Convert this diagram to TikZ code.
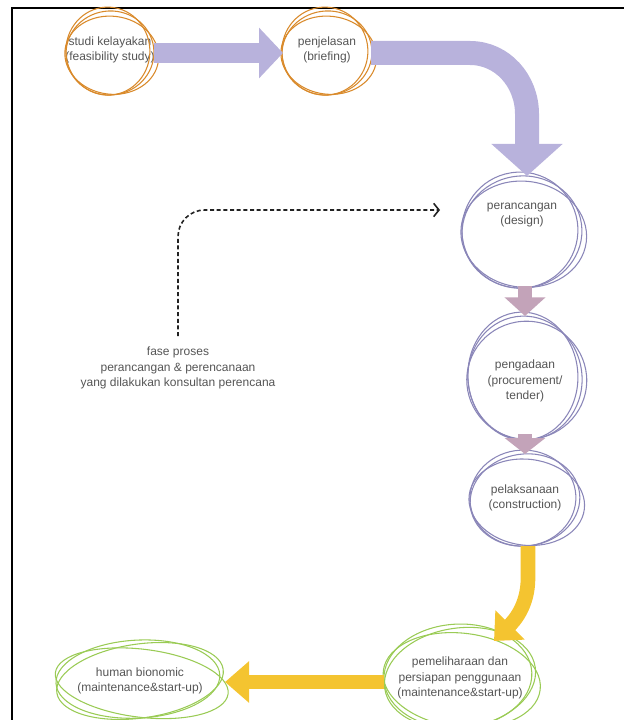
\documentclass[tikz,border=0pt]{standalone}
\usepackage{fontspec}
\setmainfont{Liberation Sans}
\usepackage{tikz}
\usetikzlibrary{arrows.meta}
\usetikzlibrary{calc}

\definecolor{loopor}{HTML}{D98A2B}
\definecolor{looppu}{HTML}{8A86B8}
\definecolor{loopgr}{HTML}{9ACB55}
\definecolor{lavender}{HTML}{B8B2DC}
\definecolor{mauve}{HTML}{C3A3B9}
\definecolor{sun}{HTML}{F4C430}
\definecolor{ink}{HTML}{555555}

\tikzset{
  stage/.style={align=center, text=ink, inner sep=0pt,
    font=\fontsize{9}{11.5}\selectfont},
  broad/.style={line width=#1, line cap=butt}
}

% three loose rings round a stage, centre #1
\newcommand{\loopy}[4]{%
  \draw[#2, line width=0.8pt, rotate around={8:(#1)}] (#1) ellipse [x radius=#3, y radius=#4];
  \draw[#2, line width=0.8pt, rotate around={-7:(#1)}] ($(#1)+(2,-2)$) ellipse [x radius=#3+3, y radius=#4-3];
  \draw[#2, line width=0.8pt, rotate around={3:(#1)}] ($(#1)+(-2,2)$) ellipse [x radius=#3-2, y radius=#4+2];
}

\begin{document}
\begin{tikzpicture}[x=0.75pt, y=0.75pt]
\useasboundingbox (0,0) rectangle (624,-720);
\draw[line width=1.5pt] (12,-720) -- (12,-8) -- (624,-8);

\node[stage] (studi) at (110,-50) {studi kelayakan\\(feasibility study)};
\node[stage] (brief) at (327,-50) {penjelasan\\(briefing)};
\node[stage] (design) at (522,-215) {perancangan\\(design)};
\node[stage] (tender) at (525,-381) {pengadaan\\(procurement/\\tender)};
\node[stage] (build) at (525,-498) {pelaksanaan\\(construction)};
\node[stage] (upkeep) at (460,-678) {pemeliharaan dan\\persiapan penggunaan\\(maintenance\&start-up)};
\node[stage] (bionomic) at (140,-681) {human bionomic\\(maintenance\&start-up)};
\node[stage] (phase) at (178,-368) {fase proses\\perancangan \& perencanaan\\yang dilakukan konsultan perencana};

% rings
\coordinate (studiring) at (110,-53);
\coordinate (briefring) at (327,-53);
\coordinate (designring) at (522,-232);
\coordinate (tenderring) at (525,-378);
\coordinate (buildring) at (525,-500);
\loopy{studiring}{loopor}{44}{42}
\loopy{briefring}{loopor}{45}{42}
\loopy{designring}{looppu}{60}{56}
\loopy{tenderring}{looppu}{57}{62}
\loopy{buildring}{looppu}{55}{46}
\loopy{upkeep}{loopgr}{76}{50}
\loopy{bionomic}{loopgr}{84}{37}

% arrows
\draw[broad=15pt, lavender, -{Triangle[width=37pt, length=18pt]}] ($(studiring)+(44,0)$) -- ($(briefring)+(-44,0)$);
\draw[broad=18pt, lavender, -{Triangle[width=52pt, length=24pt]}] ($(briefring)+(44,0)$) -- (470,-53) to[out=0, in=90] (527,-114) -- ($(designring)+(5,56)$);
\draw[broad=11pt, mauve, -{Triangle[width=30pt, length=14pt]}] ($(designring)+(3,-54)$) -- ($(tenderring)+(0,62)$);
\draw[broad=11pt, mauve, -{Triangle[width=30pt, length=12pt]}] ($(tenderring)+(0,-56)$) -- ($(buildring)+(0,46)$);
\draw[broad=11pt, sun, -{Triangle[width=30pt, length=17pt]}] ($(buildring)+(3,-46)$) -- ++(0,-32) to[out=-90, in=45] ($(upkeep)+(34,37)$);
\draw[broad=11pt, sun, -{Triangle[width=30pt, length=18pt]}] ($(upkeep)+(-76,-4)$) -- ($(bionomic)+(85,-1)$);

% consultant phase
\coordinate (dashend) at (440,-210);
\draw[ink!40!black, line width=1.2pt, dash pattern=on 3pt off 2pt, rounded corners=20,
  -{Straight Barb[length=4pt, width=10pt]}] ([yshift=8pt]phase.north) |- (dashend);
\end{tikzpicture}
\end{document}
